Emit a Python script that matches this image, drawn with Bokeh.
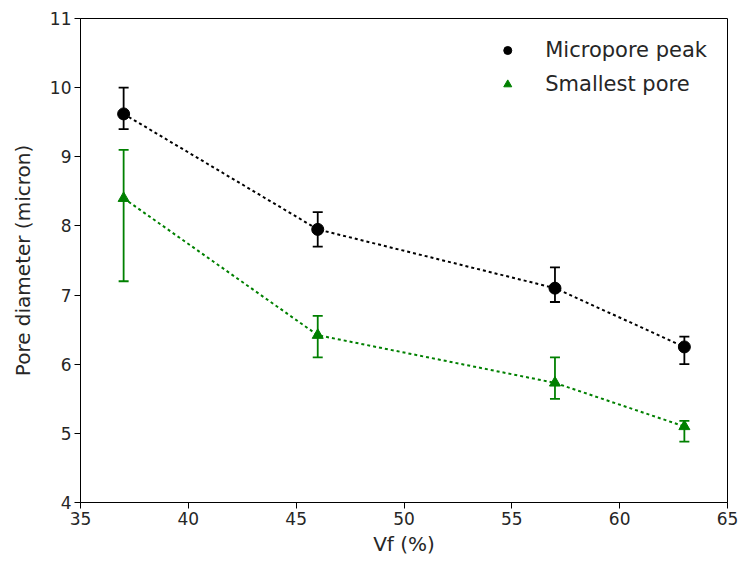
from bokeh.plotting import figure
from bokeh.models import ColumnDataSource, Whisker, TeeHead, FixedTicker, Range1d, Legend, LegendItem
from bokeh.embed import file_html
from bokeh.resources import INLINE

vf = [37, 46, 57, 63]
micro = [9.62, 7.95, 7.10, 6.25]
micro_lo = [9.40, 7.70, 6.90, 6.00]
micro_hi = [10.00, 8.20, 7.40, 6.40]
small = [8.40, 6.42, 5.73, 5.10]
small_lo = [7.20, 6.10, 5.50, 4.88]
small_hi = [9.10, 6.70, 6.10, 5.18]
x_ticks = [35, 40, 45, 50, 55, 60, 65]
y_ticks = [4, 5, 6, 7, 8, 9, 10, 11]

FONT = "DejaVu Sans"
GREEN = "#008000"
TXT = "#262626"

p = figure(width=740, height=564, output_backend="svg", toolbar_location=None,
           x_range=Range1d(35, 65), y_range=Range1d(4, 11),
           min_border_left=80, min_border_right=13, min_border_top=18, min_border_bottom=62)
p.xgrid.visible = False
p.ygrid.visible = False
p.outline_line_color = "black"
p.outline_line_width = 1
p.outline_line_alpha = 1

for ax in (p.xaxis, p.yaxis):
    ax.minor_tick_line_color = None
    ax.major_tick_out = 6
    ax.major_tick_in = 0
    ax.major_tick_line_color = "black"
    ax.axis_line_color = "black"
    ax.major_label_text_font = FONT
    ax.major_label_text_font_size = "17px"
    ax.major_label_text_color = TXT
    ax.major_label_standoff = 3
    ax.axis_label_text_font = FONT
    ax.axis_label_text_font_size = "20px"
    ax.axis_label_text_font_style = "normal"
    ax.axis_label_text_color = TXT
p.xaxis.ticker = FixedTicker(ticks=x_ticks)
p.yaxis.ticker = FixedTicker(ticks=y_ticks)
p.xaxis.axis_label = "Vf (%)"
p.yaxis.axis_label = "Pore diameter (micron)"
p.xaxis.axis_label_standoff = 4
p.yaxis.axis_label_standoff = 12

src_m = ColumnDataSource(dict(x=vf, y=micro, lo=micro_lo, hi=micro_hi))
src_s = ColumnDataSource(dict(x=vf, y=small, lo=small_lo, hi=small_hi))

p.line("x", "y", source=src_m, line_color="black", line_dash="3 3", line_width=2)
p.line("x", "y", source=src_s, line_color=GREEN, line_dash="3 3", line_width=2)

for src, col in ((src_m, "black"), (src_s, GREEN)):
    w = Whisker(source=src, base="x", upper="hi", lower="lo", dimension="height",
                line_color=col, line_width=1.8,
                upper_head=TeeHead(size=10, line_color=col, line_width=1.8),
                lower_head=TeeHead(size=10, line_color=col, line_width=1.8))
    p.add_layout(w)

r_m = p.scatter("x", "y", source=src_m, marker="circle", size=12, fill_color="black", line_color="black")
r_s = p.scatter("x", "y", source=src_s, marker="triangle", size=11, fill_color=GREEN, line_color=GREEN)

legend = Legend(items=[LegendItem(label="Micropore peak", renderers=[r_m]),
                       LegendItem(label="Smallest pore", renderers=[r_s])],
                location="top_right", border_line_alpha=0, background_fill_alpha=0,
                label_text_font=FONT, label_text_font_size="21px", label_text_color=TXT,
                glyph_width=20, glyph_height=22, label_standoff=28, spacing=10,
                margin=16, padding=4)
p.add_layout(legend)

open("out.html", "w").write(file_html(p, INLINE))
